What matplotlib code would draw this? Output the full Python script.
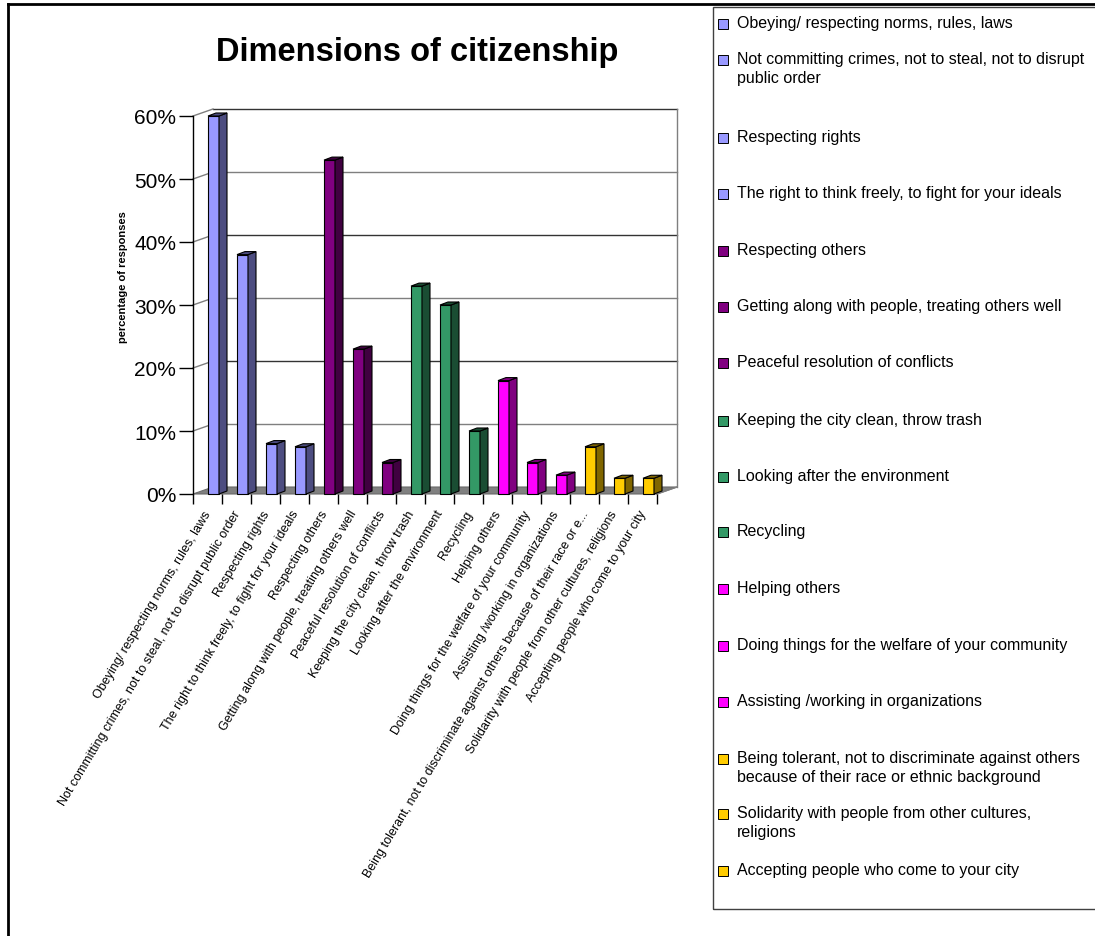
import textwrap
import matplotlib
matplotlib.use("Agg")
import matplotlib.pyplot as plt
from matplotlib.patches import Polygon, Rectangle
from matplotlib.lines import Line2D
from matplotlib.ticker import PercentFormatter
from matplotlib.transforms import ScaledTranslation

plt.rcParams['font.family'] = ['Liberation Sans', 'DejaVu Sans']

# ---------------- data ----------------
categories = [
    "Obeying/ respecting norms, rules, laws",
    "Not committing crimes, not to steal, not to disrupt public order",
    "Respecting rights",
    "The right to think freely, to fight for your ideals",
    "Respecting others",
    "Getting along with people, treating others well",
    "Peaceful resolution of conflicts",
    "Keeping the city clean, throw trash",
    "Looking after the environment",
    "Recycling",
    "Helping others",
    "Doing things for the welfare of your community",
    "Assisting /working in organizations",
    "Being tolerant, not to discriminate against others because of their race or ethnic background",
    "Solidarity with people from other cultures, religions",
    "Accepting people who come to your city",
]
tick_labels = categories[:13] + [
    "Being tolerant, not to discriminate against others because of their race or e...",
] + categories[14:]
values = [60, 38, 8, 7.5, 53, 23, 5, 33, 30, 10, 18, 5, 3, 7.5, 2.5, 2.5]
groups = [0, 0, 0, 0, 1, 1, 1, 2, 2, 2, 3, 3, 3, 4, 4, 4]
face_colors = ["#9999FF", "#800080", "#339966", "#FF00FF", "#FFCC00"]
side_colors = ["#4D4D80", "#400040", "#1A4D33", "#800080", "#806600"]
yticks = [0, 10, 20, 30, 40, 50, 60]

# ---------------- layout ----------------
W, H = 1095, 937
fig = plt.figure(figsize=(W / 100, H / 100), dpi=100)

def fx(x):
    return x / W

def fy(y):
    return 1 - y / H

x0, x1, ytop, ybot = 193, 657, 117, 495
ax = fig.add_axes([fx(x0), fy(ybot), (x1 - x0) / W, (ybot - ytop) / H])
n = len(categories)
ax.set_xlim(0, n)
ax.set_ylim(0, 60)
ax.set_facecolor('none')

px_per_cat = (x1 - x0) / n
px_per_pct = (ybot - ytop) / 60.0
DX = 20 / px_per_cat   # depth offset of back wall
DY = 7 / px_per_pct

grid_col = '#7f7f7f'
# floor
ax.add_patch(Polygon([(0, 0), (n, 0), (n + DX, DY), (DX, DY)], closed=True,
                     facecolor='#808080', edgecolor='#6a6a6a', lw=0.8,
                     clip_on=False, zorder=1))
# back wall gridlines and left-wall connectors
for v in yticks[1:]:
    ax.add_line(Line2D([DX, n + DX], [v + DY, v + DY], color=grid_col if v % 20 else '#333333',
                       lw=1.0, clip_on=False, zorder=0.5))
    ax.add_line(Line2D([0, DX], [v, v + DY], color=grid_col, lw=1.0,
                       clip_on=False, zorder=0.5))
ax.add_line(Line2D([n + DX, n + DX], [DY, 60 + DY], color=grid_col, lw=1.0,
                   clip_on=False, zorder=0.5))
ax.add_line(Line2D([n, n + DX], [0, DY], color=grid_col, lw=1.0,
                   clip_on=False, zorder=1.2))

# bars (pseudo-3D)
bl = 15 / px_per_cat
bw = 11 / px_per_cat
sx = 8 / px_per_cat
sy = 3 / px_per_pct
for i, (v, g) in enumerate(zip(values, groups)):
    left = i + bl
    right = left + bw
    ax.add_patch(Rectangle((left, 0), bw, v, facecolor=face_colors[g],
                           edgecolor='black', lw=0.8, zorder=3, clip_on=False))
    ax.add_patch(Polygon([(right, 0), (right + sx, sy), (right + sx, v + sy), (right, v)],
                         closed=True, facecolor=side_colors[g], edgecolor='black',
                         lw=0.8, zorder=3, clip_on=False))
    ax.add_patch(Polygon([(left, v), (right, v), (right + sx, v + sy), (left + sx, v + sy)],
                         closed=True, facecolor=side_colors[g], edgecolor='black',
                         lw=0.8, zorder=3, clip_on=False))

# axes / ticks
for s in ['top', 'right', 'bottom']:
    ax.spines[s].set_visible(False)
ax.spines['left'].set_linewidth(1.0)
ax.set_yticks(yticks)
ax.yaxis.set_major_formatter(PercentFormatter(decimals=0))
ax.tick_params(axis='y', length=10, width=1.0, labelsize=15, pad=2, colors='black')
ax.set_xticks(range(n + 1))
ax.set_xticklabels([])
ax.tick_params(axis='x', which='major', length=7, width=1.0, direction='out')
ax.set_xticks([i + 0.5 for i in range(n)], minor=True)
ax.set_xticklabels(tick_labels, minor=True, rotation=59, ha='right',
                   rotation_mode='anchor', fontsize=9)
ax.tick_params(axis='x', which='minor', length=0, pad=10)
for lab in ax.get_xticklabels(minor=True):
    lab.set_transform(lab.get_transform() + ScaledTranslation(-4 / 100, 0, fig.dpi_scale_trans))

# y axis title
fig.text(fx(123), fy(277), 'percentage of responses', rotation=90, ha='center', va='center',
         fontsize=8, fontweight='bold')

# title
fig.text(fx(417), fy(53), 'Dimensions of citizenship', ha='center', va='center',
         fontsize=23.5, fontweight='bold')

# outer border
fig.add_artist(Line2D([fx(8), fx(8)], [fy(5), fy(937)], color='black', lw=2))
fig.add_artist(Line2D([fx(8), fx(1095)], [fy(5), fy(5)], color='black', lw=2))

# legend (manual, Excel-style)
fig.add_artist(Rectangle((fx(713), fy(910)), (1100 - 713) / W, (910 - 8) / H,
                         transform=fig.transFigure, fill=False, edgecolor='#404040', lw=1.0))
legend_rows = [25, 61, 139, 195, 252, 308, 364, 422, 478, 533, 590, 647, 703, 760, 815, 872]
for i, (cat, g) in enumerate(zip(categories, groups)):
    yc = legend_rows[i]
    fig.add_artist(Rectangle((fx(718), fy(yc + 5)), 10 / W, 10 / H, transform=fig.transFigure,
                             facecolor=face_colors[g], edgecolor='black', lw=0.7))
    fig.text(fx(737), fy(yc - 9), textwrap.fill(cat, 51), ha='left', va='top',
             fontsize=11.5, linespacing=1.35)

fig.savefig('out.png', dpi=100)
